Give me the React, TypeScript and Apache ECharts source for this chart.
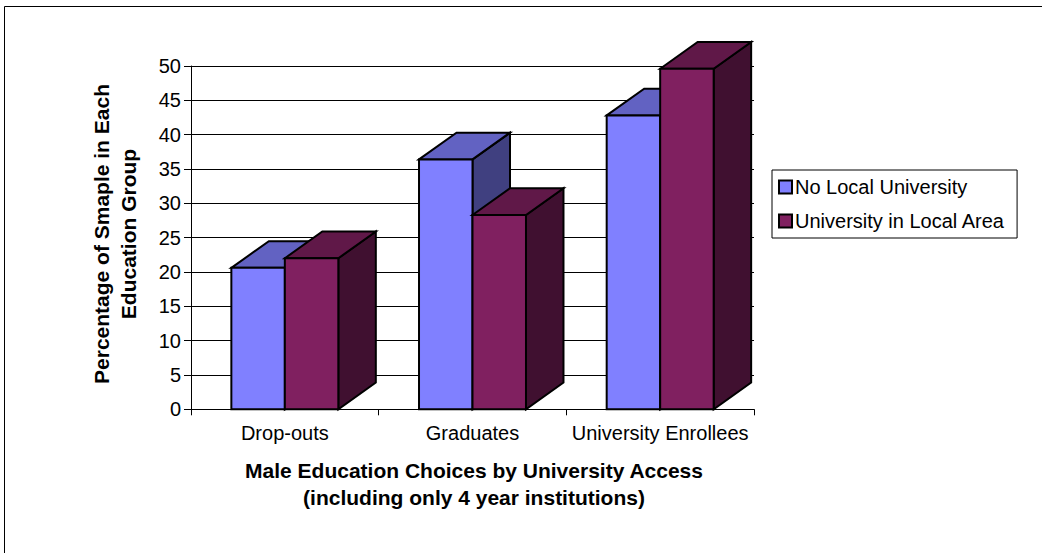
import React, { useEffect, useRef } from "react";
import * as echarts from "echarts";

const categories = ["Drop-outs", "Graduates", "University Enrollees"];
const noLocalUniversity = [20.6, 36.4, 42.8];
const universityInLocalArea = [22.0, 28.3, 49.6];
const seriesNames = ["No Local University", "University in Local Area"];
const yTitle = "Percentage of Smaple in Each\nEducation Group";
const xTitle = "Male Education Choices by University Access\n(including only 4 year institutions)";

const FONT = "'Liberation Sans', Arial, Helvetica, sans-serif";
const DX = 37.5;
const DY = -26.7;

const palettes = [
  { front: "#8080FF", top: "#6262C2", side: "#404080" },
  { front: "#802060", top: "#601848", side: "#401030" },
];

function makeRender(idx: number) {
  const pal = palettes[idx];
  return (params: any, api: any) => {
    const cat = api.value(0);
    const val = api.value(1);
    const topPt = api.coord([cat, val]);
    const basePt = api.coord([cat, 0]);
    const band = api.size([1, 0])[0];
    const w = band * 0.285;
    const x0 = topPt[0] - w + idx * w;
    const x1 = x0 + w;
    const yt = topPt[1];
    const yb = basePt[1];
    const stroke = { stroke: "#000", lineWidth: 2, lineJoin: "miter" };
    return {
      type: "group",
      children: [
        {
          type: "polygon",
          shape: { points: [[x1, yb], [x1, yt], [x1 + DX, yt + DY], [x1 + DX, yb + DY]] },
          style: { fill: pal.side, ...stroke },
        },
        {
          type: "polygon",
          shape: { points: [[x0, yt], [x0 + DX, yt + DY], [x1 + DX, yt + DY], [x1, yt]] },
          style: { fill: pal.top, ...stroke },
        },
        {
          type: "rect",
          shape: { x: x0, y: yt, width: w, height: yb - yt },
          style: { fill: pal.front, ...stroke },
        },
      ],
    };
  };
}

export default function App() {
  const ref = useRef<HTMLDivElement>(null);
  useEffect(() => {
    if (!ref.current) return;
    const chart = echarts.init(ref.current, null, { renderer: "svg" });
    const values = [noLocalUniversity, universityInLocalArea];
    chart.setOption({
      animation: false,
      backgroundColor: "#fff",
      textStyle: { fontFamily: FONT },
      grid: { left: 191, top: 66, width: 563, height: 343.3, containLabel: false },
      legend: {
        show: true,
        orient: "vertical",
        left: 772,
        top: 170,
        padding: [7, 12, 7, 6],
        itemGap: 14,
        itemWidth: 13,
        itemHeight: 13,
        icon: "rect",
        borderColor: "#000",
        borderWidth: 1,
        backgroundColor: "#fff",
        itemStyle: { borderColor: "#000", borderWidth: 2 },
        textStyle: { fontSize: 20, color: "#000", fontFamily: FONT, lineHeight: 20, padding: [0, 0, 0, -2] },
        data: seriesNames,
      },
      xAxis: {
        type: "category",
        data: categories,
        boundaryGap: true,
        axisLine: { show: true, lineStyle: { color: "#000", width: 1 } },
        axisTick: { show: true, length: 6, interval: 0, lineStyle: { color: "#000" } },
        axisLabel: { fontSize: 20, color: "#000", fontFamily: FONT, margin: 14, interval: 0 },
        splitLine: { show: false },
      },
      yAxis: {
        type: "value",
        min: 0,
        max: 50,
        interval: 5,
        axisLine: { show: true, lineStyle: { color: "#000", width: 1 } },
        axisTick: { show: true, length: 7, lineStyle: { color: "#000" } },
        axisLabel: { fontSize: 20, color: "#000", fontFamily: FONT, margin: 10 },
        splitLine: { show: true, lineStyle: { color: "#000", width: 1 } },
      },
      series: seriesNames.map((name, idx) => ({
        type: "custom",
        name,
        clip: false,
        itemStyle: { color: palettes[idx].front },
        encode: { x: 0, y: 1 },
        data: values[idx].map((v, i) => [i, v]),
        renderItem: makeRender(idx),
      })),
      graphic: [
        {
          type: "rect",
          z: -10,
          silent: true,
          shape: { x: 4.5, y: 6.5, width: 1100, height: 600 },
          style: { fill: "none", stroke: "#000", lineWidth: 1 },
        },
        {
          type: "text",
          x: 114.5,
          y: 234,
          rotation: Math.PI / 2,
          style: {
            text: yTitle,
            fill: "#000",
            font: `bold 21px ${FONT}`,
            lineHeight: 27,
            align: "center",
            verticalAlign: "middle",
          },
        },
        {
          type: "text",
          x: 474,
          y: 484,
          style: {
            text: xTitle,
            fill: "#000",
            font: `bold 21px ${FONT}`,
            lineHeight: 26.5,
            align: "center",
            verticalAlign: "middle",
          },
        },
      ],
    });
    return () => chart.dispose();
  }, []);
  return (
    <div
      ref={ref}
      style={{ position: "absolute", left: 0, top: 0, width: 1042, height: 553 }}
    />
  );
}
